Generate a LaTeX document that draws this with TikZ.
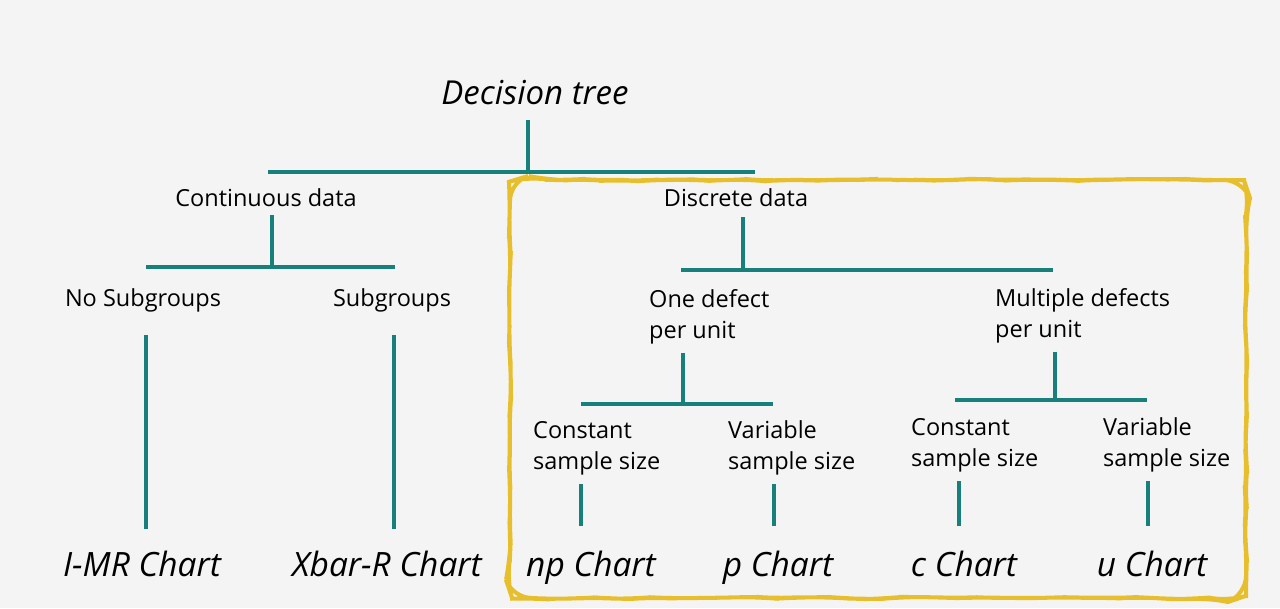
\documentclass[tikz,border=0pt]{standalone}
\usepackage{fontspec}
\setmainfont{Open Sans}
\usetikzlibrary{decorations.pathmorphing}
\definecolor{branchteal}{HTML}{17807B}
\definecolor{boxyellow}{HTML}{E7BF2C}
\definecolor{paper}{HTML}{F4F4F4}
\begin{document}
\begin{tikzpicture}[x=1pt,y=-1pt,
	link/.style={draw=branchteal,line width=4pt},
	lbl/.style={font=\fontsize{23.5}{31}\selectfont,align=left,inner sep=0pt},
	head/.style={font=\fontsize{33}{38}\selectfont\itshape,inner sep=0pt},
	chart/.style={font=\fontsize{33.5}{38}\selectfont\itshape,inner sep=0pt,anchor=base}]
	\fill[paper] (0,0) rectangle (1280,608);
	
	\begin{scope}
		\pgfmathsetseed{7}
		\draw[boxyellow,line width=4pt,rounded corners=20pt,
			decorate,decoration={random steps,segment length=18pt,amplitude=1.1pt}]
			(878,180) -- (1246,180) -- (1246,598) -- (510,598) -- (510,180) -- cycle;
	\end{scope}
	
	\node[head] (dt) at (535,93) {Decision tree};
	\node[lbl] (cont) at (266,198) {Continuous data};
	\node[lbl] (disc) at (736,198) {Discrete data};
	\node[lbl] (nosub) at (143,300) {No Subgroups};
	\node[lbl] (sub) at (392,300) {Subgroups};
	\node[lbl,anchor=west] (one) at (649,317) {One defect\\per unit};
	\node[lbl,anchor=west] (multi) at (995,316) {Multiple defects\\per unit};
	\node[lbl,anchor=west] (ocs) at (533,448) {Constant\\sample size};
	\node[lbl,anchor=west] (ovs) at (728,448) {Variable\\sample size};
	\node[lbl,anchor=west] (mcs) at (911,445) {Constant\\sample size};
	\node[lbl,anchor=west] (mvs) at (1103,445) {Variable\\sample size};
	
	\node[chart] (imr) at (142,576) {I-MR Chart};
	\node[chart] (xbar) at (387,576) {Xbar-R Chart};
	\node[chart] (np) at (591,576) {np Chart};
	\node[chart] (pc) at (778,576) {p Chart};
	\node[chart] (cc) at (964,576) {c Chart};
	\node[chart] (uc) at (1152,576) {u Chart};
	
	\coordinate (dtj) at (528,172);
	\coordinate (contj) at (272,267);
	\coordinate (discj) at (743,270);
	\coordinate (onej) at (683,404);
	\coordinate (multij) at (1055,400);
	
	\draw[link] (dt.south -| dtj) ++(0,15) -- (dtj);
	\draw[link] (268,172) -- (755,172);
	\draw[link] (cont.south -| contj) ++(0,8) -- (contj);
	\draw[link] (146,267) -- (395,267);
	\draw[link] (disc.south -| discj) ++(0,10) -- (discj);
	\draw[link] (681,270) -- (1053,270);
	\draw[link] (one.south -| onej) ++(0,8) -- (onej);
	\draw[link] (581,404) -- (773,404);
	\draw[link] (multi.south -| multij) ++(0,8) -- (multij);
	\draw[link] (955,400) -- (1147,400);
	
	\foreach \a/\b/\x in {nosub/imr/146,sub/xbar/394} {
		\coordinate (v) at (\x,0);
		\draw[link] (\a.south -| v) ++(0,23) -- ([yshift=21pt]\b.north -| v);
	}
	\foreach \a/\b/\x in {ocs/np/581,ovs/pc/774,mcs/cc/959,mvs/uc/1148} {
		\coordinate (v) at (\x,0);
		\draw[link] (\a.south -| v) ++(0,9) -- ([yshift=24pt]\b.north -| v);
	}
\end{tikzpicture}
\end{document}
